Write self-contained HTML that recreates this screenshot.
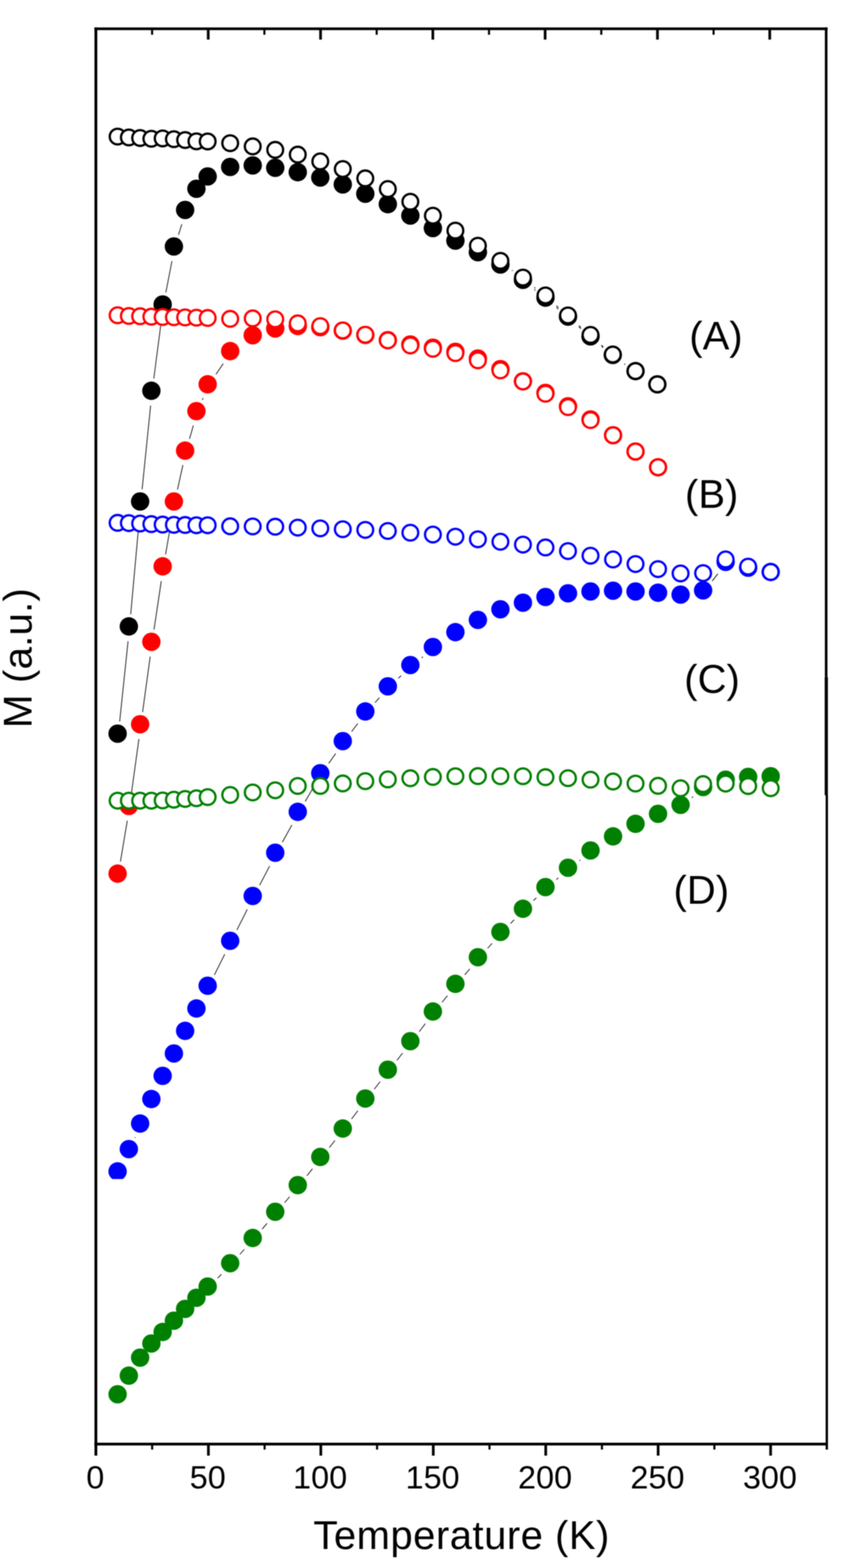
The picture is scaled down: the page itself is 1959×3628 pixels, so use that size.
<!DOCTYPE html>
<html lang="en"><head><meta charset="utf-8"><title>M (a.u.) vs Temperature (K)</title>
<style>
html,body{margin:0;padding:0;background:#fff;}
body{width:1959px;height:3628px;overflow:hidden;}
svg{display:block;position:absolute;left:0;top:0;filter:blur(0.80px);}
text{font-family:"Liberation Sans",Arial,Helvetica,sans-serif;fill:#000;}
.tk{font-size:75px;text-anchor:middle;}
.lb{font-size:92.5px;}
.ln{stroke:#000;stroke-width:1.7;fill:none;}
</style></head><body>
<svg width="1959" height="3628" viewBox="0 0 1959 3628" role="img" aria-label="M (a.u.) versus Temperature (K) for samples A, B, C and D">
<defs><clipPath id="clipC"><rect x="0" y="0" width="1959" height="2728"/></clipPath></defs>
<rect x="0" y="0" width="1959" height="3628" fill="#ffffff"/>
<g id="A_ZFC">
<path class="ln" d="M276.8 1669.3L296.2 1483.6M302.3 1421.1L322.8 1194.6M328.7 1132.1L348.4 938.3M355.7 876.0L373.6 738.6M383.6 676.7L397.7 604.1M412.9 543.3L420.5 518.7M1235.7 670.0L1238.5 672.1M1287.1 711.8L1291.2 715.3M1338.8 756.2L1343.7 760.6M1391.4 801.4L1394.7 804.2M1444.4 842.4L1445.8 843.5"/>
<g fill="#000000">
<circle cx="272.0" cy="1697.5" r="21.3"/>
<circle cx="298.0" cy="1449.4" r="21.3"/>
<circle cx="324.1" cy="1160.3" r="21.3"/>
<circle cx="350.1" cy="904.1" r="21.3"/>
<circle cx="376.2" cy="704.5" r="21.3"/>
<circle cx="402.2" cy="570.3" r="21.3"/>
<circle cx="428.2" cy="485.7" r="21.3"/>
<circle cx="454.3" cy="436.7" r="21.3"/>
<circle cx="480.3" cy="408.3" r="21.3"/>
<circle cx="532.4" cy="386.3" r="21.3"/>
<circle cx="584.5" cy="382.7" r="21.3"/>
<circle cx="636.6" cy="388.3" r="21.3"/>
<circle cx="688.7" cy="398.4" r="21.3"/>
<circle cx="740.8" cy="410.7" r="21.3"/>
<circle cx="792.8" cy="426.7" r="21.3"/>
<circle cx="844.9" cy="448.3" r="21.3"/>
<circle cx="897.0" cy="472.4" r="21.3"/>
<circle cx="949.1" cy="498.8" r="21.3"/>
<circle cx="1001.2" cy="527.8" r="21.3"/>
<circle cx="1053.3" cy="556.8" r="21.3"/>
<circle cx="1105.3" cy="583.5" r="21.3"/>
<circle cx="1157.4" cy="612.0" r="21.3"/>
<circle cx="1209.5" cy="647.5" r="21.3"/>
<circle cx="1261.6" cy="688.6" r="21.3"/>
<circle cx="1313.7" cy="732.5" r="21.3"/>
<circle cx="1365.8" cy="778.3" r="21.3"/>
<circle cx="1417.3" cy="821.3" r="21.3"/>
<circle cx="1469.9" cy="858.6" r="21.3"/>
<circle cx="1520.4" cy="889.3" r="21.3"/>
</g></g>
<g id="A_FC">
<path class="ln" d="M1184.1 625.3L1185.8 626.5M1235.6 664.8L1238.5 667.1M1286.6 707.4L1291.7 712.0M1338.9 753.4L1343.5 757.3M1390.8 798.6L1395.2 802.5M1444.1 841.7L1446.1 843.1"/>
<g fill="#fff" stroke="#000000" stroke-width="5.3">
<circle cx="272.0" cy="316.0" r="18.2"/>
<circle cx="298.0" cy="318.0" r="18.2"/>
<circle cx="324.1" cy="319.3" r="18.2"/>
<circle cx="350.1" cy="321.0" r="18.2"/>
<circle cx="376.2" cy="320.3" r="18.2"/>
<circle cx="402.2" cy="322.0" r="18.2"/>
<circle cx="428.2" cy="324.0" r="18.2"/>
<circle cx="454.3" cy="327.0" r="18.2"/>
<circle cx="480.3" cy="327.3" r="18.2"/>
<circle cx="532.4" cy="331.3" r="18.2"/>
<circle cx="584.5" cy="338.7" r="18.2"/>
<circle cx="636.6" cy="346.7" r="18.2"/>
<circle cx="688.7" cy="357.7" r="18.2"/>
<circle cx="740.8" cy="373.4" r="18.2"/>
<circle cx="792.8" cy="391.1" r="18.2"/>
<circle cx="844.9" cy="412.7" r="18.2"/>
<circle cx="897.0" cy="437.4" r="18.2"/>
<circle cx="949.1" cy="466.8" r="18.2"/>
<circle cx="1001.2" cy="499.1" r="18.2"/>
<circle cx="1053.3" cy="533.5" r="18.2"/>
<circle cx="1105.3" cy="568.5" r="18.2"/>
<circle cx="1157.4" cy="603.5" r="18.2"/>
<circle cx="1209.5" cy="642.3" r="18.2"/>
<circle cx="1261.6" cy="683.6" r="18.2"/>
<circle cx="1313.7" cy="729.8" r="18.2"/>
<circle cx="1365.8" cy="774.9" r="18.2"/>
<circle cx="1417.3" cy="820.2" r="18.2"/>
<circle cx="1469.9" cy="858.6" r="18.2"/>
<circle cx="1520.4" cy="889.3" r="18.2"/>
</g></g>
<g id="B_ZFC">
<path class="ln" d="M278.6 1993.4L294.4 1898.8M303.8 1836.7L321.3 1709.9M329.8 1647.7L347.4 1519.1M356.2 1456.9L373.0 1344.5M383.0 1282.5L398.3 1194.2M410.5 1132.6L423.0 1076.3M438.3 1015.4L447.2 984.4M467.9 925.2L469.7 921.1M499.5 866.1L516.3 841.4"/>
<g fill="#ff0000">
<circle cx="272.0" cy="2021.4" r="21.3"/>
<circle cx="298.0" cy="1864.8" r="21.3"/>
<circle cx="324.1" cy="1675.8" r="21.3"/>
<circle cx="350.1" cy="1485.0" r="21.3"/>
<circle cx="376.2" cy="1310.4" r="21.3"/>
<circle cx="402.2" cy="1160.3" r="21.3"/>
<circle cx="428.2" cy="1042.6" r="21.3"/>
<circle cx="454.3" cy="951.2" r="21.3"/>
<circle cx="480.3" cy="889.1" r="21.3"/>
<circle cx="532.4" cy="812.4" r="21.3"/>
<circle cx="584.5" cy="775.7" r="21.3"/>
<circle cx="636.6" cy="760.0" r="21.3"/>
<circle cx="688.7" cy="754.3" r="21.3"/>
<circle cx="740.8" cy="757.0" r="21.3"/>
<circle cx="792.8" cy="765.0" r="21.3"/>
<circle cx="844.9" cy="775.0" r="21.3"/>
<circle cx="897.0" cy="787.0" r="21.3"/>
<circle cx="949.1" cy="797.0" r="21.3"/>
<circle cx="1001.2" cy="804.5" r="21.3"/>
<circle cx="1053.3" cy="814.0" r="21.3"/>
<circle cx="1105.3" cy="829.5" r="21.3"/>
<circle cx="1157.4" cy="854.0" r="21.3"/>
<circle cx="1209.5" cy="882.2" r="21.3"/>
<circle cx="1261.6" cy="909.0" r="21.3"/>
<circle cx="1313.7" cy="940.0" r="21.3"/>
<circle cx="1365.8" cy="970.5" r="21.3"/>
<circle cx="1417.9" cy="1007.0" r="21.3"/>
<circle cx="1469.9" cy="1044.7" r="21.3"/>
<circle cx="1522.0" cy="1081.1" r="21.3"/>
</g></g>
<g id="B_FC">
<g fill="#fff" stroke="#ff0000" stroke-width="5.3">
<circle cx="272.0" cy="729.4" r="18.2"/>
<circle cx="298.0" cy="731.0" r="18.2"/>
<circle cx="324.1" cy="731.7" r="18.2"/>
<circle cx="350.1" cy="732.7" r="18.2"/>
<circle cx="376.2" cy="733.4" r="18.2"/>
<circle cx="402.2" cy="734.0" r="18.2"/>
<circle cx="428.2" cy="734.4" r="18.2"/>
<circle cx="454.3" cy="735.0" r="18.2"/>
<circle cx="480.3" cy="735.7" r="18.2"/>
<circle cx="532.4" cy="737.7" r="18.2"/>
<circle cx="584.5" cy="736.7" r="18.2"/>
<circle cx="636.6" cy="738.8" r="18.2"/>
<circle cx="688.7" cy="748.2" r="18.2"/>
<circle cx="740.8" cy="754.6" r="18.2"/>
<circle cx="792.8" cy="764.6" r="18.2"/>
<circle cx="844.9" cy="774.6" r="18.2"/>
<circle cx="897.0" cy="787.6" r="18.2"/>
<circle cx="949.1" cy="799.3" r="18.2"/>
<circle cx="1001.2" cy="807.0" r="18.2"/>
<circle cx="1053.3" cy="817.0" r="18.2"/>
<circle cx="1105.3" cy="833.7" r="18.2"/>
<circle cx="1157.4" cy="856.9" r="18.2"/>
<circle cx="1209.5" cy="882.6" r="18.2"/>
<circle cx="1261.6" cy="911.0" r="18.2"/>
<circle cx="1313.7" cy="942.0" r="18.2"/>
<circle cx="1365.8" cy="972.0" r="18.2"/>
<circle cx="1417.9" cy="1007.0" r="18.2"/>
<circle cx="1469.9" cy="1044.7" r="18.2"/>
<circle cx="1522.0" cy="1081.1" r="18.2"/>
</g></g>
<g id="C_ZFC" clip-path="url(#clipC)">
<path class="ln" d="M312.2 2633.0L312.9 2631.3M495.9 2255.6L519.8 2207.8M548.0 2151.6L571.9 2104.1M600.5 2048.2L623.6 2003.8M653.2 1948.5L675.0 1908.9M706.0 1854.3L726.4 1819.1M760.3 1766.3L776.3 1743.4M813.3 1692.7L827.4 1674.1M867.4 1625.7L877.5 1614.4M921.3 1569.4L927.8 1563.3M975.1 1522.1L978.2 1519.6M1647.1 1344.4L1660.3 1327.6"/>
<g fill="#0000ff">
<circle cx="272.0" cy="2710.4" r="21.3"/>
<circle cx="298.0" cy="2658.7" r="21.3"/>
<circle cx="324.1" cy="2599.6" r="21.3"/>
<circle cx="350.1" cy="2542.9" r="21.3"/>
<circle cx="376.2" cy="2489.2" r="21.3"/>
<circle cx="402.2" cy="2437.5" r="21.3"/>
<circle cx="428.2" cy="2385.1" r="21.3"/>
<circle cx="454.3" cy="2333.4" r="21.3"/>
<circle cx="480.3" cy="2280.7" r="21.3"/>
<circle cx="532.4" cy="2176.7" r="21.3"/>
<circle cx="584.5" cy="2073.0" r="21.3"/>
<circle cx="636.6" cy="1973.0" r="21.3"/>
<circle cx="688.7" cy="1878.4" r="21.3"/>
<circle cx="740.8" cy="1789.0" r="21.3"/>
<circle cx="792.8" cy="1714.7" r="21.3"/>
<circle cx="844.9" cy="1646.1" r="21.3"/>
<circle cx="897.0" cy="1588.0" r="21.3"/>
<circle cx="949.1" cy="1538.7" r="21.3"/>
<circle cx="1001.2" cy="1497.0" r="21.3"/>
<circle cx="1053.3" cy="1462.6" r="21.3"/>
<circle cx="1105.3" cy="1434.3" r="21.3"/>
<circle cx="1157.4" cy="1409.7" r="21.3"/>
<circle cx="1209.5" cy="1394.5" r="21.3"/>
<circle cx="1261.6" cy="1381.2" r="21.3"/>
<circle cx="1313.7" cy="1372.8" r="21.3"/>
<circle cx="1365.8" cy="1368.5" r="21.3"/>
<circle cx="1417.9" cy="1366.8" r="21.3"/>
<circle cx="1469.9" cy="1368.5" r="21.3"/>
<circle cx="1522.0" cy="1371.4" r="21.3"/>
<circle cx="1574.1" cy="1375.8" r="21.3"/>
<circle cx="1626.2" cy="1366.0" r="21.3"/>
<circle cx="1678.3" cy="1300.0" r="21.3"/>
<circle cx="1730.4" cy="1313.5" r="21.3"/>
<circle cx="1782.5" cy="1323.4" r="21.3"/>
</g></g>
<g id="C_FC">
<g fill="#fff" stroke="#0000ff" stroke-width="5.3">
<circle cx="272.0" cy="1209.7" r="18.2"/>
<circle cx="298.0" cy="1210.3" r="18.2"/>
<circle cx="324.1" cy="1211.3" r="18.2"/>
<circle cx="350.1" cy="1212.7" r="18.2"/>
<circle cx="376.2" cy="1213.7" r="18.2"/>
<circle cx="402.2" cy="1214.3" r="18.2"/>
<circle cx="428.2" cy="1214.7" r="18.2"/>
<circle cx="454.3" cy="1215.3" r="18.2"/>
<circle cx="480.3" cy="1215.3" r="18.2"/>
<circle cx="532.4" cy="1217.7" r="18.2"/>
<circle cx="584.5" cy="1218.0" r="18.2"/>
<circle cx="636.6" cy="1218.7" r="18.2"/>
<circle cx="688.7" cy="1220.8" r="18.2"/>
<circle cx="740.8" cy="1222.5" r="18.2"/>
<circle cx="792.8" cy="1224.5" r="18.2"/>
<circle cx="844.9" cy="1226.1" r="18.2"/>
<circle cx="897.0" cy="1228.5" r="18.2"/>
<circle cx="949.1" cy="1232.5" r="18.2"/>
<circle cx="1001.2" cy="1236.8" r="18.2"/>
<circle cx="1053.3" cy="1241.8" r="18.2"/>
<circle cx="1105.3" cy="1247.8" r="18.2"/>
<circle cx="1157.4" cy="1253.4" r="18.2"/>
<circle cx="1209.5" cy="1260.1" r="18.2"/>
<circle cx="1261.6" cy="1266.7" r="18.2"/>
<circle cx="1313.7" cy="1275.1" r="18.2"/>
<circle cx="1365.8" cy="1285.8" r="18.2"/>
<circle cx="1417.9" cy="1294.4" r="18.2"/>
<circle cx="1469.9" cy="1305.1" r="18.2"/>
<circle cx="1522.0" cy="1316.8" r="18.2"/>
<circle cx="1574.1" cy="1326.8" r="18.2"/>
<circle cx="1626.2" cy="1326.1" r="18.2"/>
<circle cx="1678.3" cy="1294.4" r="18.2"/>
<circle cx="1730.4" cy="1311.1" r="18.2"/>
<circle cx="1782.5" cy="1323.4" r="18.2"/>
</g></g>
<g id="D_ZFC">
<path class="ln" d="M503.6 2957.2L512.1 2948.3M554.8 2902.3L565.1 2890.8M606.5 2843.6L617.6 2830.6M658.3 2782.8L669.9 2769.0M709.8 2720.5L722.6 2704.4M761.7 2655.3L774.8 2638.7M813.2 2589.0L827.6 2569.9M865.7 2520.0L879.2 2502.8M918.0 2453.4L931.1 2436.6M969.6 2387.0L983.7 2368.4M1022.5 2319.0L1034.9 2303.8M1075.0 2255.4L1086.6 2241.7M1127.7 2194.3L1138.0 2182.7M1180.8 2136.8L1189.2 2128.1M1233.6 2083.8L1240.5 2077.3M1286.9 2035.1L1291.4 2031.2M1340.1 1991.7L1342.4 1989.9M1600.2 1845.7L1603.1 1843.5"/>
<g fill="#008000">
<circle cx="272.0" cy="3226.0" r="21.3"/>
<circle cx="298.0" cy="3182.9" r="21.3"/>
<circle cx="324.1" cy="3141.2" r="21.3"/>
<circle cx="350.1" cy="3108.5" r="21.3"/>
<circle cx="376.2" cy="3081.9" r="21.3"/>
<circle cx="402.2" cy="3055.8" r="21.3"/>
<circle cx="428.2" cy="3028.5" r="21.3"/>
<circle cx="454.3" cy="3002.8" r="21.3"/>
<circle cx="480.3" cy="2976.8" r="21.3"/>
<circle cx="532.4" cy="2922.7" r="21.3"/>
<circle cx="584.5" cy="2864.4" r="21.3"/>
<circle cx="636.6" cy="2803.8" r="21.3"/>
<circle cx="688.7" cy="2742.0" r="21.3"/>
<circle cx="740.8" cy="2676.9" r="21.3"/>
<circle cx="792.8" cy="2611.1" r="21.3"/>
<circle cx="844.9" cy="2541.8" r="21.3"/>
<circle cx="897.0" cy="2475.0" r="21.3"/>
<circle cx="949.1" cy="2409.0" r="21.3"/>
<circle cx="1001.2" cy="2340.4" r="21.3"/>
<circle cx="1053.3" cy="2276.4" r="21.3"/>
<circle cx="1105.3" cy="2214.7" r="21.3"/>
<circle cx="1157.4" cy="2156.3" r="21.3"/>
<circle cx="1209.5" cy="2102.6" r="21.3"/>
<circle cx="1261.6" cy="2052.5" r="21.3"/>
<circle cx="1313.7" cy="2007.8" r="21.3"/>
<circle cx="1365.8" cy="1967.8" r="21.3"/>
<circle cx="1417.9" cy="1935.1" r="21.3"/>
<circle cx="1469.9" cy="1906.1" r="21.3"/>
<circle cx="1522.0" cy="1883.0" r="21.3"/>
<circle cx="1574.1" cy="1862.2" r="21.3"/>
<circle cx="1626.2" cy="1821.0" r="21.3"/>
<circle cx="1678.3" cy="1804.0" r="21.3"/>
<circle cx="1730.4" cy="1797.5" r="21.3"/>
<circle cx="1782.5" cy="1796.0" r="21.3"/>
</g></g>
<g id="D_FC">
<g fill="#fff" stroke="#008000" stroke-width="5.3">
<circle cx="272.0" cy="1852.6" r="18.2"/>
<circle cx="298.0" cy="1852.6" r="18.2"/>
<circle cx="324.1" cy="1852.6" r="18.2"/>
<circle cx="350.1" cy="1852.6" r="18.2"/>
<circle cx="376.2" cy="1852.0" r="18.2"/>
<circle cx="402.2" cy="1850.3" r="18.2"/>
<circle cx="428.2" cy="1848.6" r="18.2"/>
<circle cx="454.3" cy="1847.0" r="18.2"/>
<circle cx="480.3" cy="1844.3" r="18.2"/>
<circle cx="532.4" cy="1839.3" r="18.2"/>
<circle cx="584.5" cy="1833.6" r="18.2"/>
<circle cx="636.6" cy="1828.6" r="18.2"/>
<circle cx="688.7" cy="1818.5" r="18.2"/>
<circle cx="740.8" cy="1818.4" r="18.2"/>
<circle cx="792.8" cy="1812.7" r="18.2"/>
<circle cx="844.9" cy="1807.4" r="18.2"/>
<circle cx="897.0" cy="1803.4" r="18.2"/>
<circle cx="949.1" cy="1800.7" r="18.2"/>
<circle cx="1001.2" cy="1797.7" r="18.2"/>
<circle cx="1053.3" cy="1796.0" r="18.2"/>
<circle cx="1105.3" cy="1795.7" r="18.2"/>
<circle cx="1157.4" cy="1796.0" r="18.2"/>
<circle cx="1209.5" cy="1796.0" r="18.2"/>
<circle cx="1261.6" cy="1798.2" r="18.2"/>
<circle cx="1313.7" cy="1800.5" r="18.2"/>
<circle cx="1365.8" cy="1804.0" r="18.2"/>
<circle cx="1417.9" cy="1808.2" r="18.2"/>
<circle cx="1469.9" cy="1813.0" r="18.2"/>
<circle cx="1522.0" cy="1818.2" r="18.2"/>
<circle cx="1574.1" cy="1823.9" r="18.2"/>
<circle cx="1626.2" cy="1814.2" r="18.2"/>
<circle cx="1678.3" cy="1813.1" r="18.2"/>
<circle cx="1730.4" cy="1818.8" r="18.2"/>
<circle cx="1782.5" cy="1823.7" r="18.2"/>
</g></g>
<g id="frame" fill="#000">
<rect x="218.4" y="63.5" width="1695.8" height="6.2"/>
<rect x="218.4" y="3338.1" width="1696.6" height="6.4"/>
<rect x="218.5" y="63.5" width="6.5" height="3304.5"/>
<rect x="1907.8" y="63.5" width="6.0" height="1503.0"/>
<rect x="1907.4" y="1566.5" width="7.4" height="273.5"/>
<rect x="1909.6" y="1840" width="5.4" height="1514.0"/>
<rect x="349.4" y="66.0" width="4.8" height="14.4"/>
<rect x="349.5" y="3341.3" width="4.8" height="12.7"/>
<rect x="478.5" y="66.0" width="6.2" height="25.6"/>
<rect x="478.9" y="3341.3" width="6.2" height="26.7"/>
<rect x="609.1" y="66.0" width="4.8" height="14.4"/>
<rect x="609.6" y="3341.3" width="4.8" height="12.7"/>
<rect x="738.3" y="66.0" width="6.2" height="25.6"/>
<rect x="738.9" y="3341.3" width="6.2" height="26.7"/>
<rect x="868.8" y="66.0" width="4.8" height="14.4"/>
<rect x="869.7" y="3341.3" width="4.8" height="12.7"/>
<rect x="998.0" y="66.0" width="6.2" height="25.6"/>
<rect x="999.0" y="3341.3" width="6.2" height="26.7"/>
<rect x="1128.6" y="66.0" width="4.8" height="14.4"/>
<rect x="1129.7" y="3341.3" width="4.8" height="12.7"/>
<rect x="1257.7" y="66.0" width="6.2" height="25.6"/>
<rect x="1259.1" y="3341.3" width="6.2" height="26.7"/>
<rect x="1388.3" y="66.0" width="4.8" height="14.4"/>
<rect x="1389.8" y="3341.3" width="4.8" height="12.7"/>
<rect x="1517.5" y="66.0" width="6.2" height="25.6"/>
<rect x="1519.1" y="3341.3" width="6.2" height="26.7"/>
<rect x="1648.0" y="66.0" width="4.8" height="14.4"/>
<rect x="1649.9" y="3341.3" width="4.8" height="12.7"/>
<rect x="1777.2" y="66.0" width="6.2" height="25.6"/>
<rect x="1779.2" y="3341.3" width="6.2" height="26.7"/>
</g>
<g class="tk">
<text x="220.3" y="3444.2">0</text>
<text x="480.4" y="3444.2">50</text>
<text x="740.4" y="3444.2">100</text>
<text x="1000.5" y="3444.2">150</text>
<text x="1260.6" y="3444.2">200</text>
<text x="1520.6" y="3444.2">250</text>
<text x="1780.7" y="3444.2">300</text>
</g>
<text class="lb" x="724.8" y="3583.6" textLength="684.5" lengthAdjust="spacing">Temperature (K)</text>
<text class="lb" style="font-size:93.5px" transform="translate(73.3 1684.8) rotate(-90)" textLength="324" lengthAdjust="spacing">M (a.u.)</text>
<text class="lb" x="1656" y="808.5" text-anchor="middle">(A)</text>
<text class="lb" x="1646" y="1174.5" text-anchor="middle">(B)</text>
<text class="lb" x="1646.8" y="1602.5" text-anchor="middle">(C)</text>
<text class="lb" x="1622" y="2091" text-anchor="middle">(D)</text>
</svg>
</body></html>
